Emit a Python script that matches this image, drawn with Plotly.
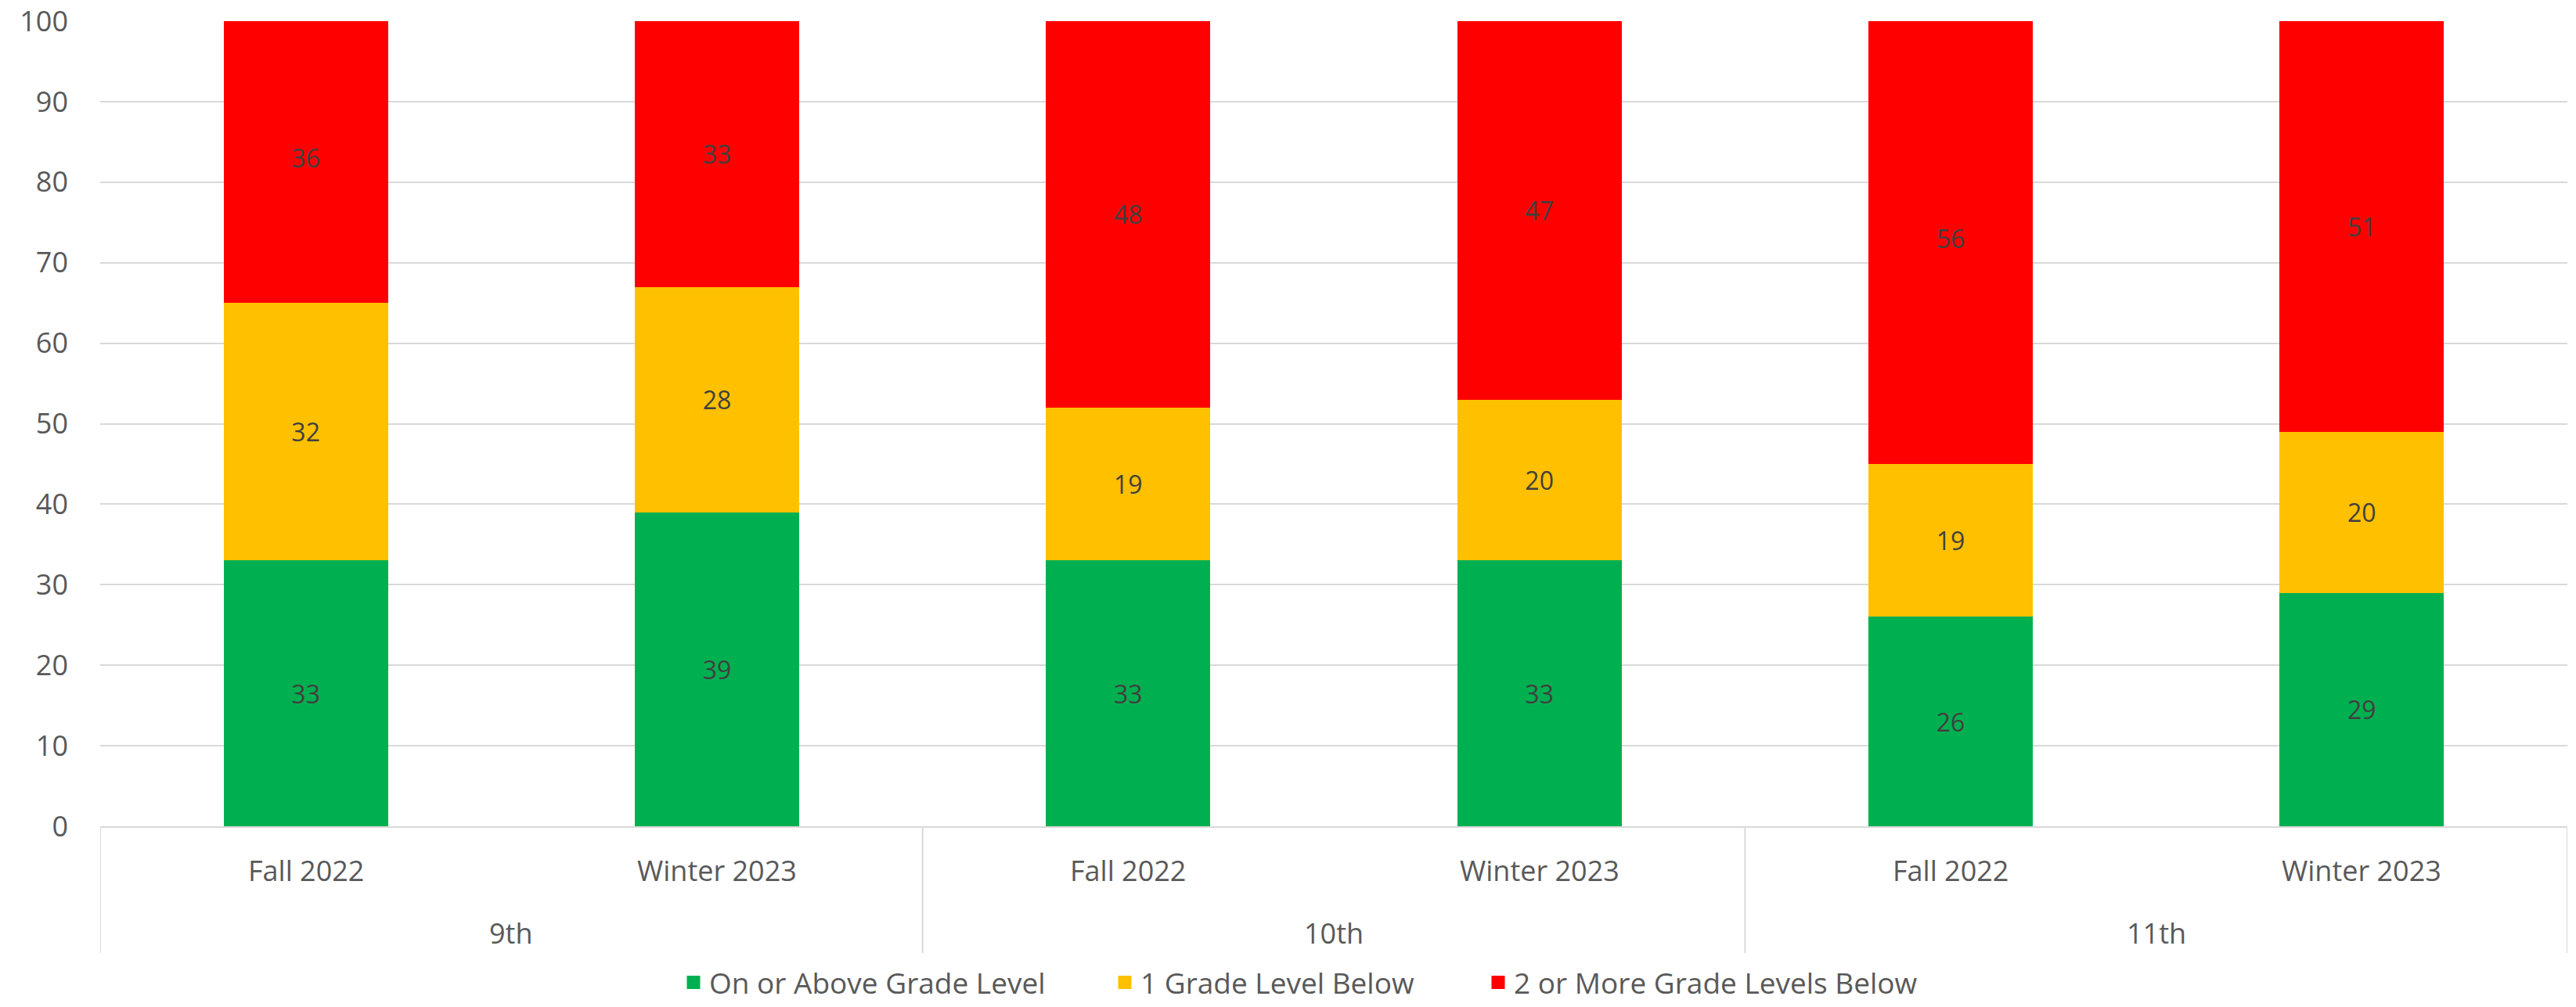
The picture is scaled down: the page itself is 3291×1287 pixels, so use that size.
import plotly.graph_objects as go

grades = ["9th", "9th", "10th", "10th", "11th", "11th"]
terms = ["Fall 2022", "Winter 2023", "Fall 2022", "Winter 2023", "Fall 2022", "Winter 2023"]
group_names = ["9th", "10th", "11th"]

series_names = ["On or Above Grade Level", "1 Grade Level Below", "2 or More Grade Levels Below"]
on_or_above = [33, 39, 33, 33, 26, 29]
one_below = [32, 28, 19, 20, 19, 20]
two_or_more = [36, 33, 48, 47, 56, 51]
colors = ["#00B050", "#FFC000", "#FF0000"]

cats = [f"{g} {t}" for g, t in zip(grades, terms)]

FONT = "Open Sans"
TEXT = "#595959"
GRID = "#D9D9D9"

W, H = 3291, 1287
ML, MR, MT, MB = 128, 11, 27, 231
PW = W - ML - MR
PH = H - MT - MB

def px_x(p):
    return (p - ML) / PW

def py(d):
    return -d / PH

legend_ids = ["legend", "legend2", "legend3"]
legend_text_start = [908, 1459, 1936]

fig = go.Figure()
for name, vals, col in zip(series_names, [on_or_above, one_below, two_or_more], colors):
    fig.add_trace(go.Bar(
        x=cats, y=vals, name=name, showlegend=False,
        marker=dict(color=col, line=dict(width=0)),
        text=[str(v) for v in vals], textposition="inside", insidetextanchor="middle",
        textangle=0, constraintext="none",
        textfont=dict(family=FONT, size=32, color="#404040"),
        hoverinfo="skip",
    ))

# legend-only entries (larger key squares, like the reference)
for name, col, lid in zip(series_names, colors, legend_ids):
    fig.add_trace(go.Bar(
        x=[cats[0]], y=[None], name=name, legend=lid, showlegend=True,
        marker=dict(color=col, line=dict(width=11, color=col)), hoverinfo="skip",
    ))

annotations = []
for i, t in enumerate(terms):
    annotations.append(dict(x=i, y=py(56), xref="x", yref="paper", text=t, showarrow=False,
                            xanchor="center", yanchor="middle",
                            font=dict(family=FONT, size=36, color=TEXT)))
for k, g in enumerate(group_names):
    annotations.append(dict(x=2 * k + 0.5, y=py(136), xref="x", yref="paper", text=g, showarrow=False,
                            xanchor="center", yanchor="middle",
                            font=dict(family=FONT, size=36, color=TEXT)))

shapes = []
for b in [-0.5, 1.5, 3.5, 5.5]:
    shapes.append(dict(type="line", xref="x", yref="paper", x0=b, x1=b, y0=0, y1=py(162),
                       line=dict(color=GRID, width=2)))

legend_common = dict(orientation="h", xanchor="left", y=py(MB), yanchor="bottom",
                     font=dict(family=FONT, size=37, color=TEXT), itemclick=False,
                     bgcolor="rgba(0,0,0,0)", borderwidth=0)
legends = {}
for lid, ts in zip(legend_ids, legend_text_start):
    legends[lid] = dict(legend_common, x=px_x(ts - 42))

fig.update_layout(
    width=W, height=H,
    margin=dict(l=ML, r=MR, t=MT, b=MB, pad=0, autoexpand=False),
    barmode="stack", bargap=0.6,
    plot_bgcolor="white", paper_bgcolor="white",
    font=dict(family=FONT, size=36, color=TEXT),
    showlegend=True,
    annotations=annotations, shapes=shapes,
    **legends,
)
fig.update_xaxes(type="category", range=[-0.5, 5.5], showticklabels=False, showgrid=False,
                 showline=True, linecolor=GRID, linewidth=2, ticks="", zeroline=False, fixedrange=True)
fig.update_yaxes(range=[0, 100], tick0=0, dtick=10, showgrid=True, gridcolor=GRID, gridwidth=2,
                 zeroline=False, showline=False, ticks="", ticklabelstandoff=40,
                 tickfont=dict(family=FONT, size=36, color=TEXT), fixedrange=True)

fig.write_html("out.html")
